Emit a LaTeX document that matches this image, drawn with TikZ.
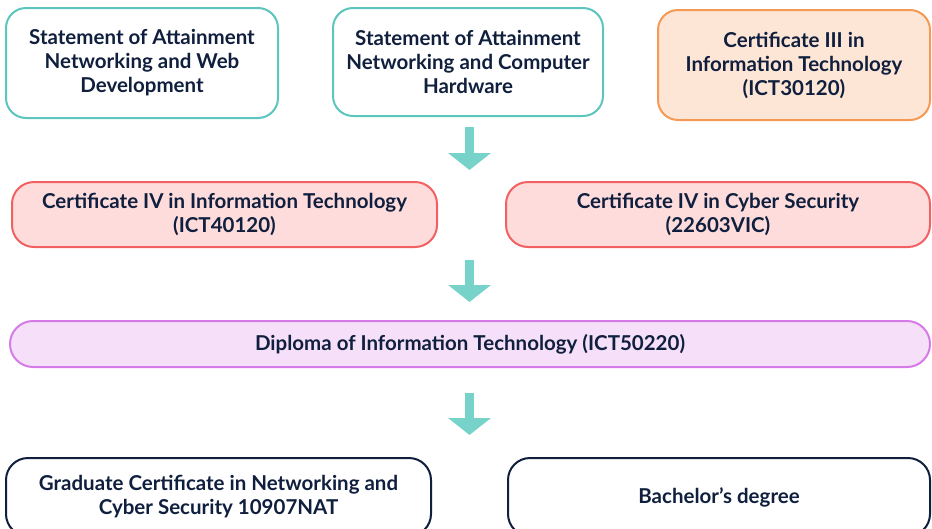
\documentclass[tikz,border=0pt]{standalone}
\usepackage{fontspec}
\setmainfont{Lato}
\usetikzlibrary{arrows.meta}
\definecolor{navy}{HTML}{0F1F3D}
\definecolor{tealline}{HTML}{5CC5BD}
\definecolor{tealarrow}{HTML}{77D2CA}
\definecolor{orangeline}{HTML}{F59A55}
\definecolor{orangefill}{HTML}{FEE6D6}
\definecolor{redline}{HTML}{F26161}
\definecolor{redfill}{HTML}{FEDCDC}
\definecolor{purpleline}{HTML}{D57AE6}
\definecolor{purplefill}{HTML}{F6E0F9}
\begin{document}
\begin{tikzpicture}[
    x=1pt, y=-1pt,
    course/.style={draw=#1, line width=2pt, rounded corners=20pt, align=center,
        text=navy, font=\fontsize{20.5}{24}\selectfont\bfseries, inner sep=0pt},
    flow/.style={tealarrow, line width=9pt, -{Triangle[width=42pt,length=17pt]}}
]
    \useasboundingbox (0,0) rectangle (932,528);
    \clip (0,0) rectangle (932,528);

    % Row 1 - entry courses
    \node[course=tealline, fill=white, minimum width=272pt, minimum height=110pt] (soaweb) at (142,63)
        {Statement of Attainment\\Networking and Web\\Development};
    \node[course=tealline, fill=white, minimum width=270pt, minimum height=108pt] (soahw) at (468,62)
        {Statement of Attainment\\Networking and Computer\\Hardware};
    \node[course=orangeline, fill=orangefill, minimum width=272pt, minimum height=110pt] (cert3) at (794,65)
        {Certificate III in\\Information Technology\\(ICT30120)};

    % Row 2 - certificate IV
    \node[course=redline, fill=redfill, minimum width=425pt, minimum height=65pt, rounded corners=22pt] (cert4it) at (224.5,214.5)
        {Certificate IV in Information Technology\\(ICT40120)};
    \node[course=redline, fill=redfill, minimum width=424pt, minimum height=65pt, rounded corners=22pt] (cert4cs) at (718,214.5)
        {Certificate IV in Cyber Security\\(22603VIC)};

    % Row 3 - diploma
    \node[course=purpleline, fill=purplefill, minimum width=920pt, minimum height=46pt, rounded corners=23pt] (diploma) at (470,344)
        {Diploma of Information Technology (ICT50220)};

    % Row 4 - higher study
    \node[course=navy, fill=white, minimum width=425pt, minimum height=78pt, rounded corners=22pt] (gradcert) at (218.5,497)
        {Graduate Certificate in Networking and\\Cyber Security 10907NAT};
    \node[course=navy, fill=white, minimum width=422pt, minimum height=78pt, rounded corners=22pt] (bachelor) at (719,497)
        {Bachelor’s degree};

    % Arrows
    \coordinate (a1s) at (469.5,127);
    \coordinate (a1e) at (469.5,170);
    \coordinate (a2s) at (469.5,260);
    \coordinate (a2e) at (469.5,302);
    \coordinate (a3s) at (469.5,393);
    \coordinate (a3e) at (469.5,435);
    \draw[flow] (a1s) -- (a1e);
    \draw[flow] (a2s) -- (a2e);
    \draw[flow] (a3s) -- (a3e);
\end{tikzpicture}
\end{document}
